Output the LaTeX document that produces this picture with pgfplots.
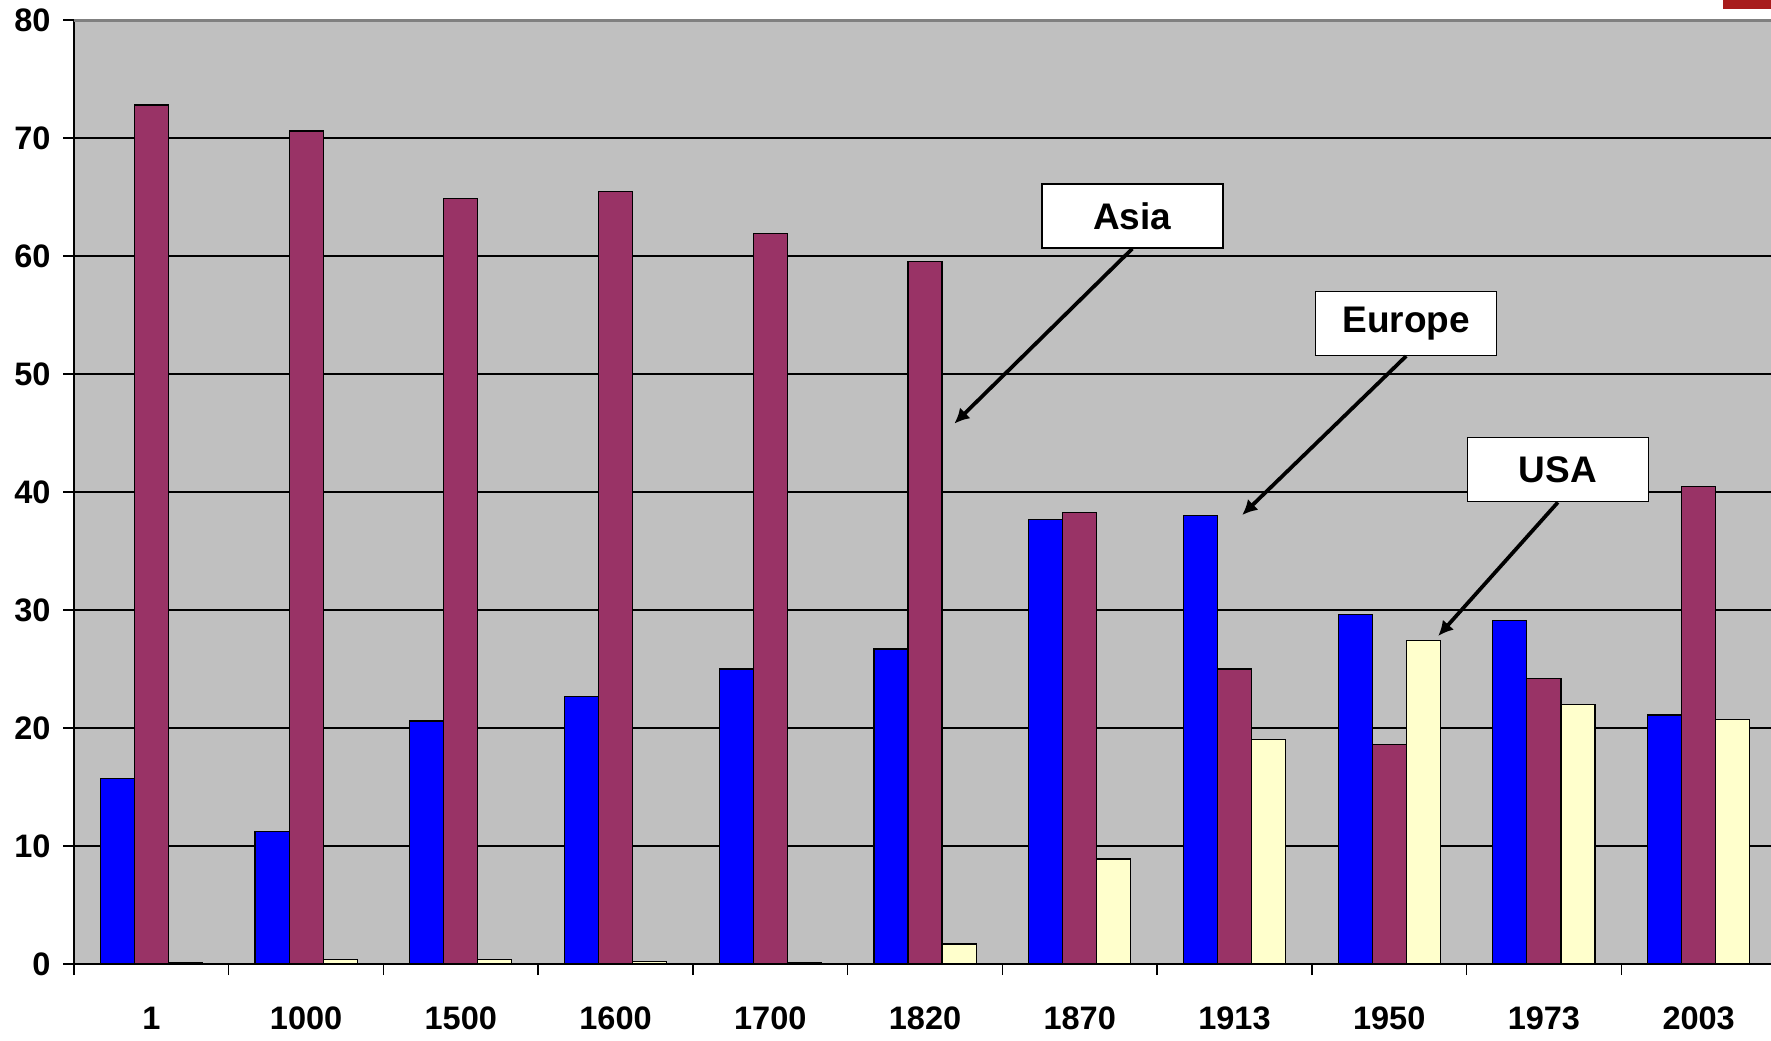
\documentclass[border=0pt]{standalone}
\usepackage{fontspec}
\setmainfont{Liberation Sans}
\usepackage{pgfplots}
\pgfplotsset{compat=1.18}
\usetikzlibrary{arrows.meta}
\definecolor{bgc}{HTML}{C0C0C0}
\definecolor{eur}{HTML}{0000FF}
\definecolor{asi}{HTML}{993366}
\definecolor{usa}{HTML}{FFFFCC}
\definecolor{redm}{HTML}{A81C1C}
\definecolor{topg}{HTML}{808080}
\begin{document}
\begin{tikzpicture}
\begin{axis}[
  scale only axis, width=680.8pt, height=377.6pt,
  at={(0,0)}, anchor=south west,
  xmin=-0.5, xmax=10.5, ymin=0, ymax=80,
  axis background/.style={fill=bgc},
  axis x line*=bottom, axis y line*=left,
  x axis line style={line width=1.1pt},
  y axis line style={line width=0.7pt},
  tick align=outside,
  major tick length=4.4pt,
  tick style={black, line width=0.6pt},
  ytick={0,10,...,80},
  ymajorgrids,
  grid style={black, line width=0.5pt},
  xtick={-0.5,0.5,...,10.5},
  xticklabels={},
  extra x ticks={0,1,2,3,4,5,6,7,8,9,10},
  extra x tick labels={1,1000,1500,1600,1700,1820,1870,1913,1950,1973,2003},
  extra x tick style={major tick length=0pt, grid=none, xticklabel style={yshift=-13.6pt}},
  /pgf/number format/assume math mode=true,
  ticklabel style={font=\bfseries\fontsize{13}{15}\selectfont},
  yticklabel style={xshift=-1.5pt},
  clip=false,
]
\addplot[ybar, bar width=0.22, bar shift=-0.22, fill=eur, draw=black, line width=0.45pt] coordinates {
 (0,15.7) (1,11.2) (2,20.6) (3,22.7) (4,25.0) (5,26.7) (6,37.7) (7,38.0) (8,29.6) (9,29.1) (10,21.1)};
\addplot[ybar, bar width=0.22, bar shift=0, fill=asi, draw=black, line width=0.45pt] coordinates {
 (0,72.8) (1,70.6) (2,64.9) (3,65.5) (4,61.9) (5,59.5) (6,38.3) (7,25.0) (8,18.6) (9,24.2) (10,40.5)};
\addplot[ybar, bar width=0.22, bar shift=0.22, fill=usa, draw=black, line width=0.45pt] coordinates {
 (0,0.15) (1,0.35) (2,0.35) (3,0.2) (4,0.15) (5,1.7) (6,8.9) (7,19.0) (8,27.4) (9,22.0) (10,20.7)};
\draw[topg, line width=1.2pt] (axis cs:-0.5,80) -- (axis cs:10.5,80);
\tikzset{ann/.style={draw=black, fill=white, line width=0.6pt, minimum width=72.4pt, minimum height=25.6pt, inner sep=0pt, font=\bfseries\fontsize{14.8}{16}\selectfont}}
\node[ann] (asia) at (axis cs:6.34,63.4) {Asia};
\node[ann] (eu) at (axis cs:8.11,54.3) {Europe};
\node[ann] (us) at (axis cs:9.09,41.9) {USA};
\draw[-{Latex[length=6pt,width=6pt]}, line width=1.5pt] (asia.south) -- (axis cs:5.19,45.8);
\draw[-{Latex[length=6pt,width=6pt]}, line width=1.5pt] (eu.south) -- (axis cs:7.05,38.05);
\draw[-{Latex[length=6pt,width=6pt]}, line width=1.5pt] (us.south) -- (axis cs:8.317,27.8);
\end{axis}
\fill[redm] (659.6pt,382pt) rectangle (685pt,390pt);
\pgfresetboundingbox
\useasboundingbox (-29.6pt,-30.4pt) rectangle (678.8pt,385.6pt);
\end{tikzpicture}
\end{document}
